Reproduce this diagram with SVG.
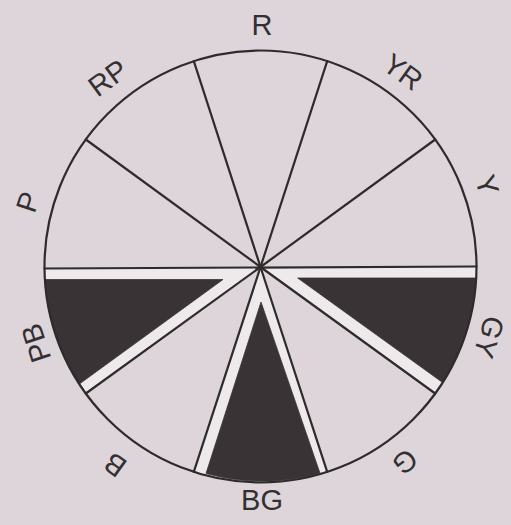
<svg xmlns="http://www.w3.org/2000/svg" width="511" height="525" viewBox="0 0 511 525">
  <style>
    .strip { fill: #eeeaec; }
    .dark { fill: #3a3335; stroke: #3a3335; stroke-width: 0.8; }
    .ln { stroke: #2f2a2c; stroke-width: 2.2; fill: none; stroke-linecap: round; }
    .lbl { font-family: "Liberation Sans", Arial, sans-serif; font-size: 29px; fill: #333031; text-anchor: middle; dominant-baseline: central; }
  </style>
  <rect width="511" height="525" fill="#ddd5d9"/>

  <g id="sector-GY">
    <path class="strip" d="M260.5 267 L476.5 266.5 A216 216 0 0 1 435.2 393.5 Z"/>
    <path class="dark" d="M297.7 278 L476.2 278 A216 216 0 0 1 442.6 382.5 Z"/>
  </g>
  <g id="sector-BG">
    <path class="strip" d="M260.5 267 L327.2 471.9 A216 216 0 0 1 193.8 471.9 Z"/>
    <path class="dark" d="M261 302 L320 473.2 A216 216 0 0 1 206 473.5 Z"/>
  </g>
  <g id="sector-PB">
    <path class="strip" d="M260.5 267 L85.8 393.5 A216 216 0 0 1 44.5 268 Z"/>
    <path class="dark" d="M223 279.5 L44.9 279.5 A216 216 0 0 0 79.3 384.1 Z"/>
  </g>

  <g id="connectors">
    <circle class="ln" cx="260.5" cy="266.5" r="216"/>
    <line class="ln" x1="260.5" y1="267" x2="327.2" y2="61.1"/>
    <line class="ln" x1="260.5" y1="267" x2="435.2" y2="139.5"/>
    <line class="ln" x1="44.5" y1="268.5" x2="476.5" y2="266.5"/>
    <line class="ln" x1="260.5" y1="267" x2="435.2" y2="393.5"/>
    <line class="ln" x1="260.5" y1="267" x2="327.2" y2="471.9"/>
    <line class="ln" x1="260.5" y1="267" x2="193.8" y2="471.9"/>
    <line class="ln" x1="260.5" y1="267" x2="85.8" y2="393.5"/>
    <line class="ln" x1="260.5" y1="267" x2="85.8" y2="139.5"/>
    <line class="ln" x1="260.5" y1="267" x2="193.8" y2="61.1"/>
  </g>

  <g id="label-R"><text class="lbl" transform="translate(262 25)">R</text></g>
  <g id="label-YR"><text class="lbl" transform="translate(403 72) rotate(36)">YR</text></g>
  <g id="label-Y"><text class="lbl" transform="translate(487 185) rotate(72)">Y</text></g>
  <g id="label-GY"><text class="lbl" transform="translate(489 337) rotate(108)">GY</text></g>
  <g id="label-G"><text class="lbl" transform="translate(405 462) rotate(144)">G</text></g>
  <g id="label-BG"><text class="lbl" transform="translate(262 500)">BG</text></g>
  <g id="label-B"><text class="lbl" transform="translate(115 465) rotate(216)">B</text></g>
  <g id="label-PB"><text class="lbl" transform="translate(36 343) rotate(252)">PB</text></g>
  <g id="label-P"><text class="lbl" transform="translate(28 202) rotate(288)">P</text></g>
  <g id="label-RP"><text class="lbl" transform="translate(108 78) rotate(324)">RP</text></g>
</svg>
